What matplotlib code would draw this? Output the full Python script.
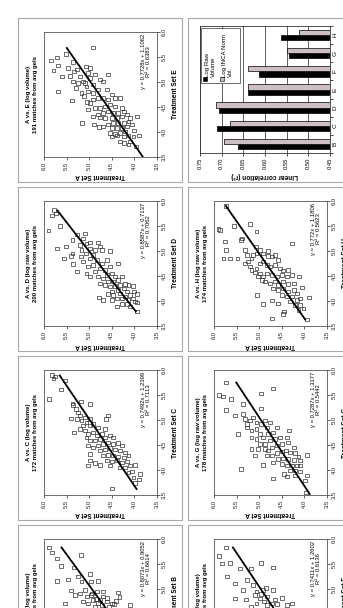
import numpy as np
import matplotlib.pyplot as plt
from matplotlib.patches import Rectangle

e_pts = [(5.69, 4.91), (5.56, 5.51), (5.49, 5.72), (5.43, 5.85), (5.23, 5.79), (5.33, 5.69), (5.11, 5.61),
         (4.81, 5.68), (4.63, 5.39), (4.18, 5.16), (4.15, 4.89), (4.10, 4.79), (5.28, 5.46), (5.21, 5.33),
         (5.25, 5.26), (5.31, 5.07), (5.28, 4.98), (5.18, 5.02), (5.11, 5.20), (5.01, 5.35), (5.01, 5.14),
         (4.98, 5.09), (5.08, 4.98), (5.15, 4.87), (5.05, 4.76), (5.15, 4.58), (5.01, 4.69), (4.95, 4.91),
         (4.91, 5.06), (4.98, 5.24), (4.78, 5.17), (4.81, 5.02), (4.78, 4.91), (4.85, 4.80), (4.85, 4.61),
         (4.75, 4.50), (4.68, 4.43), (4.68, 4.32), (4.65, 4.58), (4.68, 4.69), (4.68, 4.80), (4.65, 4.91),
         (4.58, 4.98), (4.45, 5.02), (4.48, 4.87), (4.48, 4.76), (4.51, 4.65), (4.55, 4.54), (4.51, 4.43),
         (4.48, 4.28), (4.41, 4.24), (4.38, 4.36), (4.38, 4.47), (4.41, 4.58), (4.38, 4.69), (4.35, 4.80),
         (4.31, 4.91), (4.29, 4.76), (4.28, 4.65), (4.28, 4.50), (4.28, 4.39), (4.31, 4.28), (4.35, 4.17),
         (4.28, 4.10), (4.31, 3.95), (4.21, 4.13), (4.18, 4.24), (4.18, 4.36), (4.18, 4.47), (4.15, 4.58),
         (4.11, 4.69), (4.08, 4.50), (4.08, 4.39), (4.08, 4.28), (4.11, 4.17), (4.15, 4.06), (4.01, 4.21),
         (3.98, 4.32), (3.96, 4.43), (3.98, 4.54), (3.91, 4.50), (3.93, 4.38), (3.91, 4.24), (3.93, 4.13),
         (3.91, 4.02), (3.93, 3.89), (4.03, 4.00), (3.81, 4.10), (3.71, 3.96), (3.75, 4.13), (3.78, 4.24),
         (3.81, 4.32), (4.72, 5.12), (4.60, 5.05), (4.88, 5.30), (5.12, 5.42), (5.40, 5.36)]

d_pts = [(5.82, 5.78), (5.71, 5.83), (5.75, 5.73), (5.41, 5.90), (5.50, 5.65), (5.05, 5.72), (5.09, 5.51),
         (4.85, 5.56), (4.95, 5.37), (4.90, 5.41), (4.74, 5.35), (4.59, 5.28), (5.22, 5.37), (5.33, 5.28),
         (5.35, 5.09), (5.25, 5.13), (5.12, 5.20), (5.02, 5.17), (5.15, 5.06), (5.17, 4.98), (5.05, 4.99),
         (4.95, 5.07), (4.89, 5.18), (4.79, 5.13), (4.85, 4.98), (4.92, 4.91), (5.17, 4.80), (5.09, 4.76),
         (5.02, 4.72), (5.02, 4.87), (4.82, 4.83), (4.72, 4.91), (4.69, 5.02), (4.55, 5.06), (4.49, 4.98),
         (4.59, 4.87), (4.75, 4.72), (4.82, 4.61), (5.00, 4.54), (4.65, 4.76), (4.62, 4.65), (4.69, 4.54),
         (4.75, 4.37), (4.49, 4.80), (4.45, 4.69), (4.52, 4.61), (4.55, 4.50), (4.49, 4.43), (4.39, 4.58),
         (4.39, 4.47), (4.42, 4.36), (4.49, 4.28), (4.35, 4.76), (4.32, 4.65), (4.29, 4.54), (4.30, 4.43),
         (4.32, 4.32), (4.34, 4.21), (4.32, 4.13), (4.30, 4.04), (4.25, 4.24), (4.22, 4.36), (4.19, 4.50),
         (4.14, 4.58), (4.12, 4.47), (4.15, 4.32), (4.19, 4.17), (4.19, 4.00), (4.14, 3.95), (4.12, 4.10),
         (4.09, 4.21), (4.05, 4.28), (4.05, 4.39), (4.02, 4.50), (4.02, 4.13), (3.99, 3.99), (4.05, 4.04),
         (4.07, 4.78), (4.02, 4.69), (3.89, 4.39), (3.94, 4.28), (3.94, 4.17), (3.97, 3.95), (3.79, 3.94),
         (3.89, 4.10)]

c_pts = [(5.90, 5.83), (5.87, 5.76), (5.83, 5.79), (5.79, 5.54), (5.61, 5.63), (5.42, 5.88), (5.33, 5.37),
         (5.30, 5.35), (5.37, 5.19), (5.03, 5.41), (4.75, 5.33), (5.32, 4.98), (5.02, 4.99), (3.63, 4.50),
         (4.32, 4.98), (4.19, 4.99), (4.14, 4.87), (4.09, 5.02), (4.10, 4.76), (4.09, 4.54), (4.05, 4.33),
         (3.97, 4.06), (3.92, 3.88), (3.81, 3.90), (3.74, 3.99), (5.22, 5.29), (5.15, 5.24), (5.09, 5.20),
         (5.02, 5.28), (4.99, 5.17), (5.05, 5.09), (4.95, 5.06), (4.89, 5.13), (4.82, 5.20), (4.79, 5.09),
         (4.89, 4.98), (4.92, 4.91), (4.85, 4.80), (5.02, 4.63), (5.09, 4.58), (4.72, 5.02), (4.75, 4.91),
         (4.69, 4.83), (4.72, 4.72), (4.82, 4.65), (4.65, 5.06), (4.59, 4.98), (4.59, 4.87), (4.62, 4.76),
         (4.65, 4.65), (4.69, 4.54), (4.65, 4.47), (4.49, 5.02), (4.45, 4.91), (4.49, 4.80), (4.52, 4.69),
         (4.55, 4.58), (4.52, 4.47), (4.54, 4.36), (4.49, 4.28), (4.39, 4.76), (4.41, 4.65), (4.44, 4.54),
         (4.41, 4.43), (4.39, 4.32), (4.35, 4.21), (4.29, 4.69), (4.30, 4.58), (4.29, 4.47), (4.27, 4.36),
         (4.25, 4.24), (4.29, 4.13), (4.19, 4.61), (4.17, 4.50), (4.19, 4.39), (4.15, 4.28), (4.17, 4.17),
         (4.05, 4.21), (4.09, 4.10), (4.10, 3.99), (3.95, 4.13), (3.85, 4.02)]

b_pts = [(5.83, 5.88), (5.73, 5.82), (5.61, 5.72), (5.46, 5.63), (5.68, 5.19), (5.16, 5.72), (5.19, 5.46),
         (5.43, 5.34), (4.97, 5.41), (4.71, 5.54), (5.30, 4.98), (5.15, 4.96), (5.16, 4.80), (5.25, 5.24),
         (5.15, 5.17), (4.88, 5.31), (4.91, 5.20), (4.98, 5.09), (4.85, 5.05), (4.91, 4.94), (4.95, 4.83),
         (4.78, 4.91), (4.78, 4.76), (4.85, 4.69), (4.75, 4.61), (4.71, 4.50), (4.93, 4.36), (4.84, 4.33),
         (4.68, 4.10), (4.71, 5.02), (4.75, 5.13), (4.68, 4.72), (4.65, 4.87), (4.65, 4.57), (4.80, 4.85),
         (4.88, 4.97), (4.95, 4.70), (4.72, 4.80), (4.82, 4.60), (4.70, 4.45), (4.76, 4.40)]

h_pts = [(5.90, 5.73), (5.44, 5.90), (5.42, 5.87), (5.19, 5.76), (5.02, 5.73), (4.85, 5.79), (5.50, 5.56),
         (4.85, 5.65), (4.85, 5.48), (5.22, 5.41), (5.25, 5.39), (5.54, 5.20), (5.39, 5.06), (5.02, 5.31),
         (4.92, 5.28), (4.69, 5.20), (4.12, 5.04), (3.94, 4.91), (4.01, 4.72), (3.95, 4.58), (3.79, 4.45),
         (3.74, 4.48), (3.65, 4.72), (5.15, 4.28), (4.52, 4.28), (4.49, 4.11), (4.27, 4.06), (4.07, 3.89),
         (3.63, 3.95), (5.00, 4.80), (4.75, 5.31), (4.79, 5.24), (4.85, 5.17), (4.92, 5.13), (4.95, 5.06),
         (5.09, 5.07), (5.02, 4.98), (4.95, 4.91), (4.90, 4.80), (4.89, 4.72), (4.92, 4.65), (4.82, 4.58),
         (4.62, 5.17), (4.57, 5.09), (4.65, 5.06), (4.75, 4.98), (4.79, 4.91), (4.72, 4.83), (4.69, 4.76),
         (4.72, 4.65), (4.65, 4.54), (4.61, 4.47), (4.62, 4.36), (4.55, 4.98), (4.49, 4.91), (4.55, 4.83),
         (4.52, 4.72), (4.49, 4.61), (4.52, 4.50), (4.49, 4.39), (4.39, 4.87), (4.35, 4.76), (4.39, 4.65),
         (4.32, 4.58), (4.39, 4.47), (4.34, 4.36), (4.35, 4.24), (4.25, 4.69), (4.22, 4.58), (4.25, 4.47),
         (4.19, 4.36), (4.22, 4.24), (4.15, 4.17), (4.12, 4.50), (4.09, 4.39), (4.09, 4.28), (4.02, 4.17),
         (4.05, 4.10), (3.99, 4.32), (3.92, 4.21), (3.92, 4.10), (3.85, 4.02), (3.82, 4.13), (4.49, 5.02),
         (4.42, 4.94)]

g_pts = [(5.75, 5.73), (5.50, 5.88), (5.47, 5.81), (5.42, 5.63), (5.20, 5.73), (5.09, 5.54), (5.32, 5.35),
         (5.12, 5.35), (4.92, 5.26), (4.72, 5.46), (4.02, 5.41), (5.53, 4.95), (5.63, 4.70), (5.23, 4.97),
         (4.42, 5.17), (4.10, 4.91), (3.83, 4.70), (3.92, 4.45), (3.87, 4.38), (4.09, 4.28), (4.27, 4.13),
         (4.30, 3.95), (3.89, 3.94), (3.79, 3.99), (3.55, 3.96), (4.29, 5.09), (4.39, 4.80), (4.15, 4.69),
         (5.02, 5.31), (4.99, 5.20), (4.85, 5.28), (5.05, 5.13), (4.95, 5.06), (4.79, 5.17), (4.82, 5.06),
         (4.92, 4.95), (4.99, 4.87), (4.95, 4.76), (4.85, 4.83), (4.72, 4.98), (4.65, 5.17), (4.62, 5.06),
         (4.65, 4.91), (4.72, 4.80), (4.75, 4.69), (4.85, 4.61), (4.79, 4.35), (4.52, 4.98), (4.52, 4.87),
         (4.59, 4.76), (4.62, 4.65), (4.65, 4.54), (4.65, 4.39), (4.42, 5.02), (4.42, 4.87), (4.45, 4.72),
         (4.49, 4.61), (4.52, 4.50), (4.55, 4.36), (4.45, 4.24), (4.29, 4.83), (4.29, 4.72), (4.34, 4.61),
         (4.37, 4.50), (4.39, 4.41), (4.35, 4.32), (4.34, 4.21), (4.22, 4.58), (4.23, 4.47), (4.22, 4.36),
         (4.20, 4.24), (4.19, 4.10), (4.12, 4.50), (4.09, 4.39), (4.09, 4.17), (4.09, 4.10), (3.99, 4.32),
         (3.99, 4.21), (3.97, 4.10), (3.89, 4.21)]

f_pts = [(5.66, 5.88), (5.83, 5.73), (5.51, 5.83), (5.52, 5.65), (5.25, 5.72), (5.11, 5.54), (5.41, 5.42),
         (5.41, 5.19), (5.52, 4.97), (5.43, 4.70), (4.81, 5.54), (4.98, 5.35), (5.18, 5.28), (4.79, 5.29),
         (5.08, 5.13), (4.95, 5.06), (4.98, 4.91), (4.81, 4.98), (4.85, 4.83), (4.98, 4.69), (4.79, 4.65),
         (4.82, 4.50), (4.68, 4.39), (4.71, 4.28), (4.65, 5.19), (4.71, 5.06), (4.68, 4.83), (4.71, 4.72),
         (4.90, 4.95), (4.88, 5.10), (4.75, 4.90), (4.70, 4.60), (5.02, 4.85)]

# trendline (slope, intercept), R², x-extent of the trendline
fits = {'E': (0.7728, 1.1062), 'D': (0.8587, 0.7137), 'C': (0.7492, 1.2399), 'B': (0.8073, 0.9052),
        'H': (0.772, 1.1806), 'G': (0.7287, 1.3177), 'F': (0.7411, 1.2602)}
r2 = {'E': 0.6383, 'D': 0.7062, 'C': 0.7113, 'B': 0.6614, 'H': 0.5623, 'G': 0.5442, 'F': 0.6136}
spans = {'E': (3.51, 5.68), 'D': (3.79, 5.81), 'C': (3.62, 5.89), 'B': (3.65, 5.83),
         'H': (3.63, 5.90), 'G': (3.52, 5.75), 'F': (3.60, 5.83)}
kind = {'E': 'log volume', 'D': 'log raw volume', 'C': 'log volume', 'B': 'log volume',
        'H': 'log raw volume', 'G': 'log raw volume', 'F': 'log volume'}
matches = {'E': 191, 'D': 200, 'C': 172, 'B': 185, 'H': 174, 'G': 178, 'F': 183}

# bar chart
cats = ['B', 'C', 'D', 'E', 'F', 'G', 'H']
raw_r2 = [0.6614, 0.7113, 0.7062, 0.6383, 0.6136, 0.5442, 0.5623]
inca_r2 = [0.694, 0.681, 0.712, 0.640, 0.639, 0.550, 0.521]

plt.rcParams['font.family'] = ['Liberation Sans', 'DejaVu Sans']

W, H = 343, 608
fig = plt.figure(figsize=(W / 100, H / 100), dpi=100, facecolor='white')


def box(x, y, w, h):
    # pixel box with top-left origin -> figure fraction
    return [x / W, 1 - (y + h) / H, w / W, h / H]


def frame(x, y, w=164, h=164):
    fig.add_artist(Rectangle((x / W, 1 - (y + h) / H), w / W, h / H, transform=fig.transFigure,
                             fill=False, ec='#a8a8a8', lw=0.8))


def scatter_panel(px, py, pts, key):
    frame(px, py)
    ax = fig.add_axes(box(px + 26, py + 14, 113, 125))
    xs, a = zip(*pts)
    ax.scatter(a, xs, s=8, marker='s', facecolors='none', edgecolors='#333333', linewidths=0.5, zorder=2)
    slope, icpt = fits[key]
    lx = np.array(spans[key])
    ax.plot(slope * lx + icpt, lx, color='black', lw=1.3, zorder=3)

    ticks = [3.5, 4.0, 4.5, 5.0, 5.5, 6.0]
    ax.set_xlim(6.0, 3.5)
    ax.set_ylim(3.5, 6.0)
    ax.set_xticks(ticks)
    ax.set_xticklabels([f'{t:.1f}' for t in ticks], rotation=90)
    ax.yaxis.tick_right()
    ax.set_yticks(ticks)
    ax.set_yticklabels([f'{t:.1f}' for t in ticks], rotation=90, va='center')
    ax.tick_params(labelsize=4.2, length=2, width=0.5, pad=1.2, colors='#222222')
    for s in ax.spines.values():
        s.set_linewidth(0.6)
        s.set_color('#555555')

    ax.text(-0.11, 0.5, f'A vs. {key} ({kind[key]})\n{matches[key]} matches from avg gels',
            transform=ax.transAxes, rotation=90, ha='center', va='center', fontsize=4.3,
            fontweight='bold', linespacing=1.5)
    ax.text(0.903, 0.985, f'y = {slope}x + {icpt}\nR² = {r2[key]}', transform=ax.transAxes,
            rotation=90, ha='center', va='top', multialignment='center', fontsize=4.2)
    ax.text(1.168, 0.5, f'Treatment Set {key}', transform=ax.transAxes, rotation=90,
            ha='center', va='center', fontsize=4.7, fontweight='bold')
    ax.text(0.5, -0.152, 'Treatment Set A', transform=ax.transAxes, rotation=180,
            ha='center', va='center', fontsize=4.7, fontweight='bold')


# left column (top row of the original sheet)
scatter_panel(18, 18, e_pts, 'E')
scatter_panel(18, 187, d_pts, 'D')
scatter_panel(18, 356, c_pts, 'C')
scatter_panel(18, 525, b_pts, 'B')
# right column
scatter_panel(188, 187, h_pts, 'H')
scatter_panel(188, 356, g_pts, 'G')
scatter_panel(188, 525, f_pts, 'F')

# bar chart panel
frame(188, 18)
ax = fig.add_axes(box(200, 26, 130, 127))
pos = np.arange(len(cats))
ax.barh(pos - 0.143, raw_r2, height=0.286, color='black', edgecolor='black', lw=0.5, zorder=2)
ax.barh(pos + 0.143, inca_r2, height=0.286, color='#cdbfc4', edgecolor='black', lw=0.5, zorder=2)
ax.set_xlim(0.75, 0.45)
ax.set_ylim(-0.5, len(cats) - 0.5)
xt = [0.45, 0.50, 0.55, 0.60, 0.65, 0.70, 0.75]
ax.set_xticks(xt)
ax.set_xticklabels([f'{v:.2f}' for v in xt], rotation=90)
ax.grid(axis='x', color='#444444', lw=0.6)
ax.set_axisbelow(True)
ax.yaxis.tick_right()
ax.set_yticks(pos)
ax.set_yticklabels(cats, rotation=90, va='center')
ax.set_yticks(np.arange(-0.5, len(cats), 1), minor=True)
ax.tick_params(axis='y', which='major', length=0, pad=2, labelsize=4.6)
ax.tick_params(axis='y', which='minor', length=2.5, width=0.5)
ax.tick_params(axis='x', length=2, width=0.5, pad=1.2, labelsize=4.2)
for s in ax.spines.values():
    s.set_linewidth(0.6)
    s.set_color('#333333')
ax.text(0.5, -0.18, 'Linear correlation (r²)', transform=ax.transAxes, rotation=180,
        ha='center', va='center', fontsize=4.7, fontweight='bold')

# legend drawn in axes fraction (rotated with the sheet)
ax.add_patch(Rectangle((0.008, 0.551), 0.30, 0.433, transform=ax.transAxes, fc='white',
                       ec='#333333', lw=0.5, zorder=5))
ax.add_patch(Rectangle((0.024, 0.567), 0.031, 0.031, transform=ax.transAxes, fc='black',
                       ec='black', lw=0.4, zorder=6))
ax.add_patch(Rectangle((0.154, 0.567), 0.031, 0.031, transform=ax.transAxes, fc='#cdbfc4',
                       ec='black', lw=0.4, zorder=6))
ax.text(0.08, 0.6, 'Log Raw\nVolume', transform=ax.transAxes, rotation=90, ha='center',
        va='bottom', multialignment='left', fontsize=4.4, zorder=6)
ax.text(0.21, 0.6, 'Log INCA Norm\nVol.', transform=ax.transAxes, rotation=90, ha='center',
        va='bottom', multialignment='left', fontsize=4.4, zorder=6)

fig.savefig('out.png', dpi=100, facecolor='white')
